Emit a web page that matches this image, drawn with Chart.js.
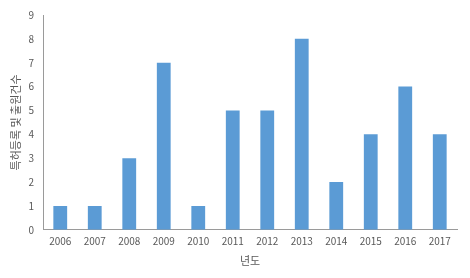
<!DOCTYPE html>
<html><head><meta charset="utf-8">
<script src="https://cdn.jsdelivr.net/npm/chart.js@4"></script>
<style>html,body{margin:0;padding:0;background:#fff}#w{width:470px;height:278px}</style>
</head><body><div id="w"><canvas id="c"></canvas></div>
<script>
const categories = ['2006','2007','2008','2009','2010','2011','2012','2013','2014','2015','2016','2017'];
const values = [1,1,3,7,1,5,5,8,2,4,6,4];
const yTicks = [0,1,2,3,4,5,6,7,8,9];
const font = "'Noto Sans CJK KR','Noto Sans',sans-serif";
new Chart(document.getElementById('c'), {
  type: 'bar',
  data: { labels: categories, datasets: [{ data: values, backgroundColor: '#5B9BD5', categoryPercentage: 1, barPercentage: 0.4 }] },
  options: {
    responsive: true, maintainAspectRatio: false, animation: false,
    layout: { padding: { left: 9, right: 13, top: 11, bottom: 11 } },
    plugins: { legend: { display: false }, tooltip: { enabled: false } },
    scales: {
      x: {
        grid: { display: false, drawTicks: false },
        border: { color: '#9a9a9a', width: 1 },
        ticks: { color: '#595959', font: { family: font, size: 10 }, padding: 5, maxRotation: 0 },
        title: { display: true, text: '년도', color: '#595959', font: { family: font, size: 11 }, padding: { top: 2, bottom: 0 } }
      },
      y: {
        min: 0, max: 9,
        afterBuildTicks: s => { s.ticks = yTicks.map(v => ({ value: v })); },
        grid: { display: false, drawTicks: false },
        border: { color: '#9a9a9a', width: 1 },
        ticks: { color: '#595959', font: { family: font, size: 10 }, padding: 9 },
        title: { display: true, text: '특허등록 및 출원건수', color: '#595959', font: { family: font, size: 11 }, padding: { top: 0, bottom: 4 } },
        afterFit: s => { s.width = 34; }
      }
    }
  }
});
</script></body></html>
